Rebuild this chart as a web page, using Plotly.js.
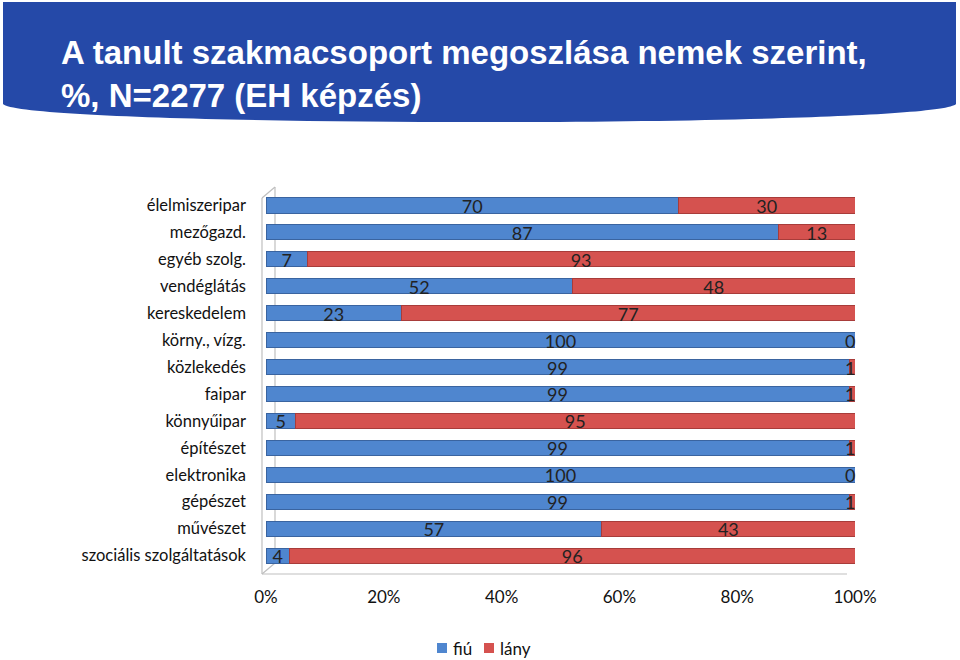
<!DOCTYPE html>
<html>
<head>
<meta charset="utf-8">
<script src="https://cdn.plot.ly/plotly-3.0.1.min.js"></script>
<style>html,body{margin:0;padding:0;background:#fff;}#chart{width:960px;height:660px;}</style>
</head>
<body>
<div id="chart"></div>
<script>
const categories = ["élelmiszeripar","mezőgazd.","egyéb szolg.","vendéglátás","kereskedelem","körny., vízg.","közlekedés","faipar","könnyűipar","építészet","elektronika","gépészet","művészet","szociális szolgáltatások"];
const fiu  = [70, 87, 7, 52, 23, 100, 99, 99, 5, 99, 100, 99, 57, 4];
const lany = [30, 13, 93, 48, 77, 0, 1, 1, 95, 1, 0, 1, 43, 96];
const seriesNames = ["fiú", "lány"];
const xTickVals = [0, 20, 40, 60, 80, 100];
const xTickText = ["0%", "20%", "40%", "60%", "80%", "100%"];

// plot frame (pixels)
const L = 266, W = 589, T = 192, H = 377;
const px = v => (v - L) / W;
const py = v => (T + H - v) / H;

const fiuMid = fiu.map(v => v / 2);
const lanyMid = fiu.map((v, i) => v + lany[i] / 2);

const blue = '#4f86cf', red = '#d5524f';
const colors = [blue, red];
const font = 'Lato, "Open Sans", sans-serif';

const traces = [
  {type:'bar', orientation:'h', name:seriesNames[0], y:categories, x:fiu,
   marker:{color:blue, line:{color:'#3a64a0', width:1}}, width:0.56, hoverinfo:'skip'},
  {type:'bar', orientation:'h', name:seriesNames[1], y:categories, x:lany,
   marker:{color:red, line:{color:'#a83c3a', width:1}}, width:0.56, hoverinfo:'skip'},
  {type:'scatter', mode:'text', y:categories, x:fiuMid, text:fiu.map(String), yaxis:'y2',
   textposition:'middle center', textfont:{family:font, size:18, color:'#222'}, showlegend:false, hoverinfo:'skip', cliponaxis:false},
  {type:'scatter', mode:'text', y:categories, x:lanyMid.map(v => Math.min(v, 99.2)), text:lany.map(String), yaxis:'y2',
   textposition:'middle center', textfont:{family:font, size:18, color:'#222'}, showlegend:false, hoverinfo:'skip', cliponaxis:false}
];

const wall = '#bfbfbf';
const shapes = [
  {type:'path', xref:'paper', yref:'paper', layer:'below',
   path:`M ${px(3)},${py(2)} L ${px(956)},${py(2)} L ${px(956)},${py(104)} C ${px(935)},${py(128)} ${px(25)},${py(128)} ${px(3)},${py(104)} Z`,
   fillcolor:'#2549a8', line:{width:0}},
  {type:'line', xref:'paper', yref:'paper', x0:px(262), y0:py(198), x1:px(262), y1:py(574), line:{color:wall, width:1.2}, layer:'below'},
  {type:'line', xref:'paper', yref:'paper', x0:px(262), y0:py(198), x1:px(275), y1:py(187), line:{color:wall, width:1.2}, layer:'below'},
  {type:'line', xref:'paper', yref:'paper', x0:px(275), y0:py(187), x1:px(275), y1:py(563), line:{color:wall, width:1.2}, layer:'below'},
  {type:'line', xref:'paper', yref:'paper', x0:px(262), y0:py(574), x1:px(275), y1:py(563), line:{color:wall, width:1.2}, layer:'below'},
  {type:'line', xref:'paper', yref:'paper', x0:px(262), y0:py(574), x1:px(847), y1:py(574), line:{color:wall, width:1.2}, layer:'below'}
];

// custom compact legend
const legendX = [437, 484];
const annotations = [];
seriesNames.forEach((n, i) => {
  shapes.push({type:'rect', xref:'paper', yref:'paper', x0:px(legendX[i]), x1:px(legendX[i] + 10),
               y0:py(653), y1:py(643), fillcolor:colors[i], line:{width:0}});
  annotations.push({xref:'paper', yref:'paper', x:px(legendX[i] + 14), y:py(648), xanchor:'left', yanchor:'middle',
                    text:n, showarrow:false, font:{family:font, size:17, color:'#111'}});
});

const layout = {
  width:960, height:660,
  margin:{l:L, r:960 - L - W, t:T, b:660 - T - H, autoexpand:false},
  paper_bgcolor:'#ffffff', plot_bgcolor:'rgba(0,0,0,0)',
  barmode:'stack', bargap:0.44,
  showlegend:false,
  title:{text:'A tanult szakmacsoport megoszlása nemek szerint,<br>%, N=2277 (EH képzés)',
         font:{family:'"Liberation Sans", Arial, sans-serif', size:33, color:'#ffffff', weight:'bold'},
         x:61/960, xanchor:'left', xref:'container', y:1 - 64/660, yanchor:'top', yref:'container'},
  xaxis:{range:[0, 100], tickvals:xTickVals, ticktext:xTickText, showgrid:false, zeroline:false,
         showline:false, ticks:'', ticklabelstandoff:16, fixedrange:true,
         tickfont:{family:font, size:17, color:'#111'}},
  yaxis:{type:'category', categoryarray:categories, categoryorder:'array', range:[13.5, -0.5],
         showgrid:false, zeroline:false, showline:false, ticks:'', ticklabelstandoff:19,
         tickfont:{family:font, size:16.5, color:'#111'}},
  yaxis2:{type:'category', categoryarray:categories, categoryorder:'array', range:[13.39, -0.61],
          overlaying:'y', visible:false, showticklabels:false},
  shapes:shapes,
  annotations:annotations
};

Plotly.newPlot('chart', traces, layout, {displayModeBar:false, staticPlot:true});
</script>
</body>
</html>
